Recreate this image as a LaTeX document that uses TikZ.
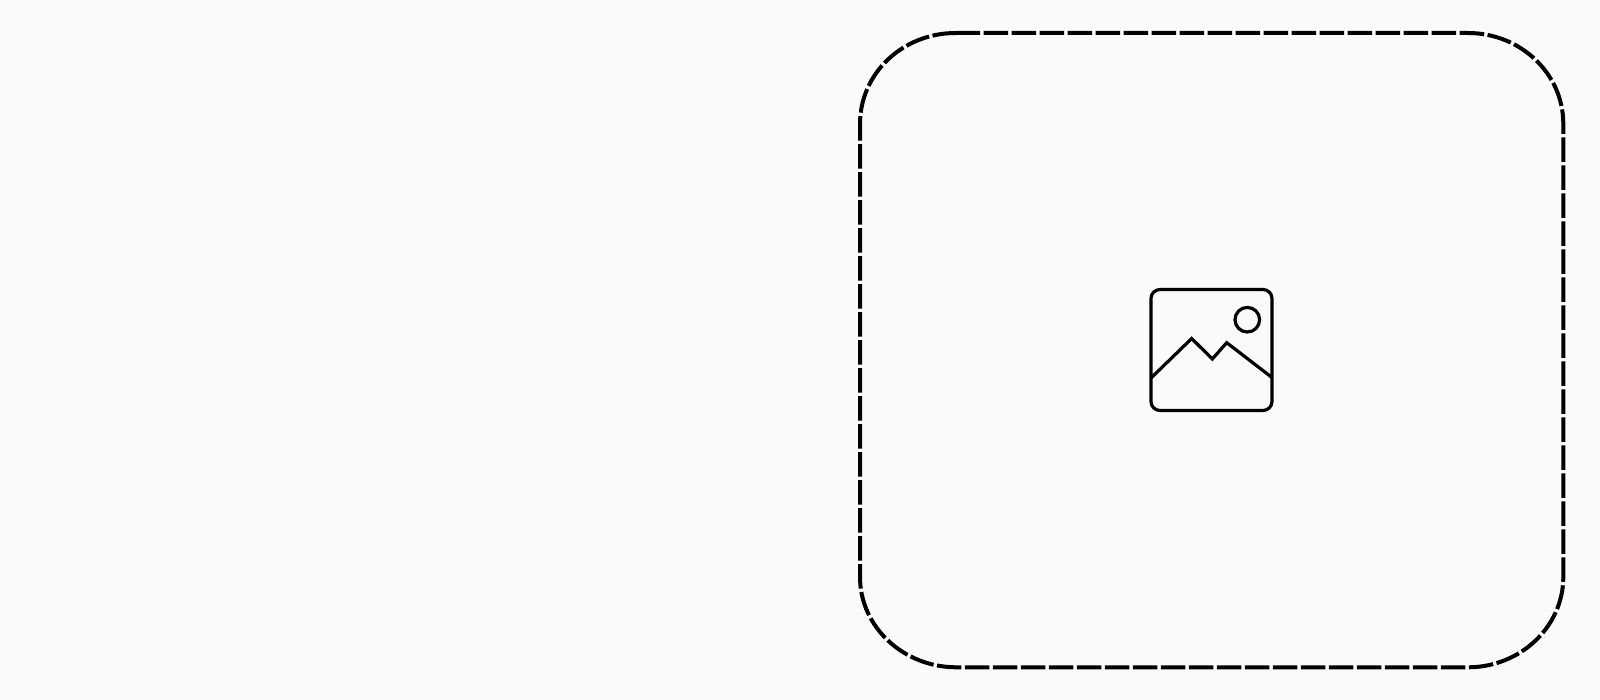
\documentclass[tikz,border=0pt]{standalone}
\tikzset{
  frame/.style={draw=black,line width=4pt,dash pattern=on 24.5pt off 3.5pt},
  icon/.style={draw=black,line width=3.2pt,line join=miter}
}
\begin{document}
\begin{tikzpicture}[x=1pt,y=-1pt]
\useasboundingbox (0,0) rectangle (1600,700);
\fill[fill={rgb,255:red,250;green,250;blue,250}] (0,0) rectangle (1600,700);
% dashed frame
\draw[frame] (955.7,33) -- (1468,33)
  .. controls (1520,33) and (1563.3,73) .. (1563.3,124)
  -- (1563.3,577)
  .. controls (1563.3,627) and (1520,667.3) .. (1468,667.3)
  -- (956.5,667.3)
  .. controls (903.5,667.3) and (860,627) .. (860,577)
  -- (860,124)
  .. controls (860,73) and (903,33) .. (955.7,33);
% picture icon
\draw[icon,rounded corners=9pt] (1151,289.5) rectangle (1272,410.5);
\draw[icon] (1247.3,319.7) circle[radius=12.3];
\draw[icon] (1151,378) -- (1191.7,338.5) -- (1212.3,359) -- (1226.7,342.7) -- (1272,377.5);
\end{tikzpicture}
\end{document}
